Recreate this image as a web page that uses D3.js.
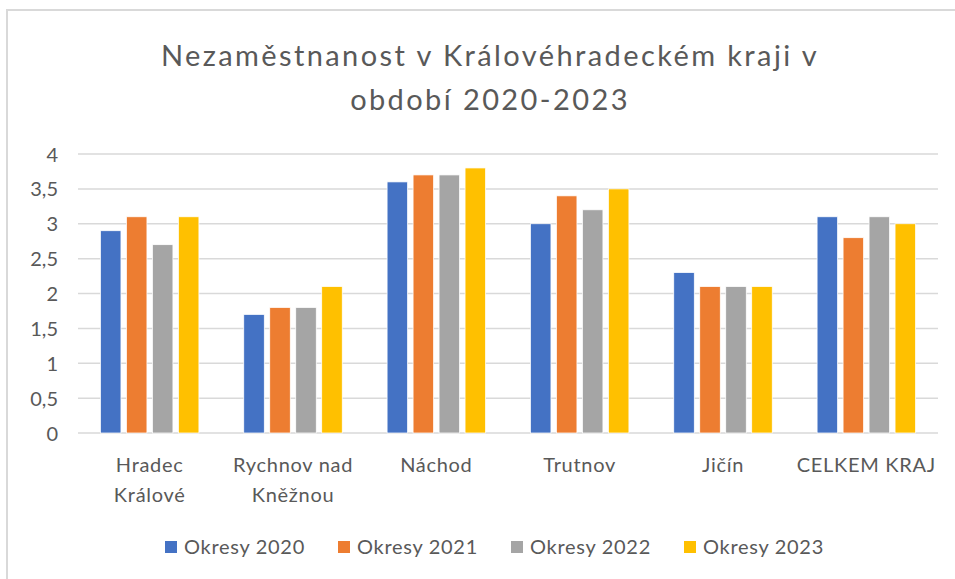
<!DOCTYPE html>
<html>
<head>
<meta charset="utf-8">
<script src="https://cdn.jsdelivr.net/npm/d3@7"></script>
<style>
  body { margin: 0; background: #fff; }
  text { font-family: Lato, "Open Sans", sans-serif; fill: #595959; }
</style>
</head>
<body>
<div id="chart"></div>
<script>
// data
const categories = [["Hradec", "Králové"], ["Rychnov nad", "Kněžnou"], ["Náchod"], ["Trutnov"], ["Jičín"], ["CELKEM KRAJ"]];
const seriesNames = ["Okresy 2020", "Okresy 2021", "Okresy 2022", "Okresy 2023"];
const okresy2020 = [2.9, 1.7, 3.6, 3.0, 2.3, 3.1];
const okresy2021 = [3.1, 1.8, 3.7, 3.4, 2.1, 2.8];
const okresy2022 = [2.7, 1.8, 3.7, 3.2, 2.1, 3.1];
const okresy2023 = [3.1, 2.1, 3.8, 3.5, 2.1, 3.0];
const yTicks = [0, 0.5, 1, 1.5, 2, 2.5, 3, 3.5, 4];
const colors = ["#4472C4", "#ED7D31", "#A5A5A5", "#FFC000"];

const allSeries = [okresy2020, okresy2021, okresy2022, okresy2023];

const width = 955, height = 579;
const svg = d3.select("#chart").append("svg")
    .attr("width", width)
    .attr("height", height);

// ramecek grafu (vpravo a dole oriznuty)
svg.append("path")
    .attr("d", "M7,579 V10 H955")
    .attr("fill", "none")
    .attr("stroke", "#d9d9d9")
    .attr("stroke-width", 2);

// nadpis
const title = svg.append("text")
    .attr("text-anchor", "middle")
    .style("font-size", "29px")
    .style("letter-spacing", "2.4px");
title.append("tspan").attr("x", 490).attr("y", 66).text("Nezaměstnanost v Královéhradeckém  kraji v");
title.append("tspan").attr("x", 490).attr("y", 110).text("období 2020-2023");

const x0 = d3.scaleBand()
    .domain(d3.range(categories.length))
    .range([78, 938]);

const groupW = 98.5;
const x1 = d3.scaleBand()
    .domain(d3.range(seriesNames.length))
    .range([(x0.bandwidth() - groupW) / 2, (x0.bandwidth() + groupW) / 2])
    .paddingInner(0.21);

const y = d3.scaleLinear()
    .domain([0, 4])
    .range([433, 154]);

// mrizka
svg.append("g")
    .selectAll("line")
    .data(yTicks)
    .join("line")
    .attr("x1", 78)
    .attr("x2", 938)
    .attr("y1", d => y(d))
    .attr("y2", d => y(d))
    .attr("stroke", "#d9d9d9")
    .attr("stroke-width", 1.5);

// osa y
const fmt = d => String(d).replace(".", ",");
const yAxis = svg.append("g")
    .attr("transform", "translate(58,0)")
    .call(d3.axisLeft(y).tickValues(yTicks).tickFormat(fmt).tickSize(0).tickPadding(0));
yAxis.select(".domain").remove();
yAxis.selectAll("text")
    .style("font-size", "20px")
    .style("fill", "#595959")
    .attr("dy", "0.35em");

// sloupce
const groups = svg.append("g")
    .selectAll("g")
    .data(categories)
    .join("g")
    .attr("transform", (d, i) => `translate(${x0(i)},0)`);

groups.selectAll("rect")
    .data((d, i) => allSeries.map((s, k) => ({ k: k, v: s[i] })))
    .join("rect")
    .attr("x", d => x1(d.k))
    .attr("y", d => y(d.v))
    .attr("width", x1.bandwidth())
    .attr("height", d => y(0) - y(d.v))
    .attr("fill", d => colors[d.k])
    .attr("stroke", "#fff")
    .attr("stroke-width", 0.75);

// popisky kategorii
const catLabels = svg.append("g")
    .selectAll("text")
    .data(categories)
    .join("text")
    .attr("text-anchor", "middle")
    .style("font-size", "20px")
    .style("letter-spacing", "0.7px");
catLabels.selectAll("tspan")
    .data((d, i) => d.map(line => ({ line: line, i: i })))
    .join("tspan")
    .attr("x", d => x0(d.i) + x0.bandwidth() / 2)
    .attr("y", (d, j) => 472 + j * 30)
    .text(d => d.line);

// legenda
const legendX = [165, 338, 511, 684];
const legend = svg.append("g")
    .selectAll("g")
    .data(seriesNames)
    .join("g")
    .attr("transform", (d, i) => `translate(${legendX[i]},541)`);
legend.append("rect")
    .attr("width", 12)
    .attr("height", 12)
    .attr("fill", (d, i) => colors[i]);
legend.append("text")
    .attr("x", 19)
    .attr("y", 13)
    .style("font-size", "20px")
    .style("letter-spacing", "0.7px")
    .text(d => d);
</script>
</body>
</html>
